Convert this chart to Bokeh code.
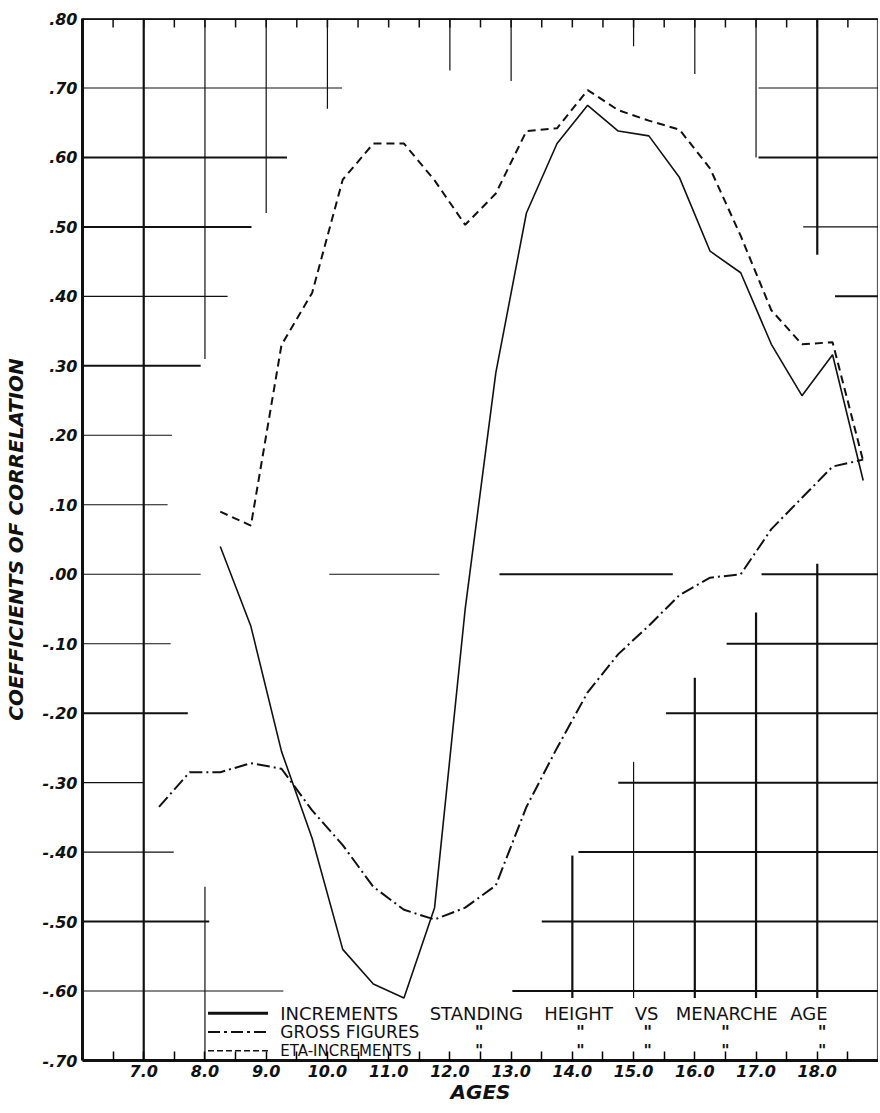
from bokeh.plotting import figure
from bokeh.models import LinearAxis, FixedTicker, Range1d, Span
from bokeh.embed import file_html
from bokeh.resources import INLINE
from bokeh.core.properties import value

# ---------------- data ----------------
ages = [8.25, 8.75, 9.25, 9.75, 10.25, 10.75, 11.25, 11.75, 12.25, 12.75, 13.25,
        13.75, 14.25, 14.75, 15.25, 15.75, 16.25, 16.75, 17.25, 17.75, 18.25, 18.75]
increments = [0.04, -0.075, -0.255, -0.38, -0.54, -0.59, -0.61, -0.48, -0.05, 0.29, 0.52,
              0.62, 0.675, 0.638, 0.631, 0.571, 0.465, 0.434, 0.331, 0.257, 0.316, 0.135]
eta_increments = [0.09, 0.07, 0.33, 0.405, 0.568, 0.62, 0.62, 0.567, 0.503, 0.548, 0.638,
                  0.642, 0.697, 0.668, 0.653, 0.64, 0.584, 0.487, 0.38, 0.331, 0.334, 0.163]
gross_ages = [7.25, 7.75, 8.25, 8.75, 9.25, 9.75, 10.25, 10.75, 11.25, 11.75, 12.25, 12.75,
              13.25, 13.75, 14.25, 14.75, 15.25, 15.75, 16.25, 16.75, 17.25, 17.75, 18.25, 18.75]
gross_figures = [-0.335, -0.285, -0.285, -0.272, -0.28, -0.34, -0.39, -0.45, -0.483, -0.497, -0.48, -0.448,
                 -0.335, -0.25, -0.17, -0.115, -0.074, -0.03, -0.005, 0.0, 0.065, 0.11, 0.155, 0.165]

x_ticks = [7.0, 8.0, 9.0, 10.0, 11.0, 12.0, 13.0, 14.0, 15.0, 16.0, 17.0, 18.0]
x_tick_labels = ["7.0", "8.0", "9.0", "10.0", "11.0", "12.0", "13.0", "14.0", "15.0", "16.0", "17.0", "18.0"]
x_minor = [6.5, 7.5, 8.5, 9.5, 10.5, 11.5, 12.5, 13.5, 14.5, 15.5, 16.5, 17.5, 18.5]
y_ticks = [0.8, 0.7, 0.6, 0.5, 0.4, 0.3, 0.2, 0.1, 0.0, -0.1, -0.2, -0.3, -0.4, -0.5, -0.6, -0.7]
y_tick_labels = [".80", ".70", ".60", ".50", ".40", ".30", ".20", ".10", ".00",
                 "-.10", "-.20", "-.30", "-.40", "-.50", "-.60", "-.70"]

legend_labels = ["INCREMENTS STANDING HEIGHT VS MENARCHE AGE", "GROSS FIGURES", "ETA-INCREMENTS"]

# partial ruling of the original graph paper: (value, from, to)
grid_h_thick = [(0.6, 6.0, 9.34), (0.5, 6.0, 8.76), (0.3, 6.0, 7.93), (-0.2, 6.0, 7.72), (-0.5, 6.0, 8.07),
                (0.6, 17.04, 19.0), (0.4, 18.29, 19.0), (-0.1, 16.52, 19.0), (-0.2, 15.53, 19.0),
                (-0.3, 14.75, 19.0), (-0.4, 14.1, 19.0), (-0.5, 13.5, 19.0), (-0.6, 13.02, 19.0),
                (0.0, 12.81, 15.64), (0.0, 17.09, 19.0)]
grid_h_thin = [(0.7, 6.0, 10.24), (0.4, 6.0, 8.37), (0.2, 6.0, 7.46), (0.1, 6.0, 7.39), (0.0, 6.0, 7.93),
               (-0.1, 6.0, 7.44), (-0.3, 6.0, 7.0), (-0.4, 6.0, 7.49), (-0.6, 6.0, 9.28),
               (0.7, 17.04, 19.0), (0.5, 17.77, 19.0), (0.0, 10.03, 11.83)]
grid_v_thick = [(7.0, -0.7, 0.8), (18.0, 0.46, 0.8), (14.0, -0.61, -0.405), (16.0, -0.61, -0.149),
                (17.0, -0.61, -0.055), (18.0, -0.61, 0.015)]
grid_v_thin = [(8.0, 0.31, 0.8), (8.0, -0.7, -0.45), (9.0, 0.52, 0.8), (10.0, 0.67, 0.8),
               (12.0, 0.725, 0.8), (13.0, 0.71, 0.8), (15.0, 0.76, 0.8), (16.0, 0.72, 0.8),
               (17.0, 0.6, 0.8), (15.0, -0.61, -0.27)]

# ---------------- figure ----------------
INK = "#111111"
FONT = "DejaVu Sans"
Y_TOP = 0.8
TOP_TICK = 0.013

p = figure(width=878, height=1108, output_backend="svg", toolbar_location=None,
           x_range=Range1d(6.0, 19.0), y_range=Range1d(-0.70, Y_TOP),
           x_axis_location=None, y_axis_location=None,
           min_border_left=81, min_border_right=0, min_border_top=18, min_border_bottom=48,
           background_fill_color="white", border_fill_color="white")
p.grid.visible = False
p.outline_line_color = "#555555"
p.outline_line_width = 1.2

# grid pieces
for segs, w in ((grid_h_thick, 2.0), (grid_h_thin, 1.1)):
    p.segment(x0=[s[1] for s in segs], y0=[s[0] for s in segs],
              x1=[s[2] for s in segs], y1=[s[0] for s in segs],
              line_color=INK, line_width=w)
for segs, w in ((grid_v_thick, 2.2), (grid_v_thin, 1.2)):
    p.segment(x0=[s[0] for s in segs], y0=[s[1] for s in segs],
              x1=[s[0] for s in segs], y1=[s[2] for s in segs],
              line_color=INK, line_width=w)

# heavy top rule with short hanging ticks
top_ticks = x_ticks + x_minor
p.segment(x0=top_ticks, y0=[Y_TOP] * len(top_ticks), x1=top_ticks,
          y1=[Y_TOP - TOP_TICK] * len(top_ticks), line_color=INK, line_width=1.5)
p.add_layout(Span(location=Y_TOP, dimension="width", line_color=INK, line_width=3))

# data lines
solid_style = dict(line_color=INK, line_width=1.6)
dashdot_style = dict(line_color=INK, line_width=2.0, line_dash="13 4 2 4")
dash_style = dict(line_color=INK, line_width=2.0, line_dash="8 5")

p.line(gross_ages, gross_figures, **dashdot_style)
p.line(ages, eta_increments, **dash_style)
p.line(ages, increments, **solid_style)

# axes
xb = LinearAxis(ticker=FixedTicker(ticks=x_ticks, minor_ticks=x_minor), axis_label="AGES")
xb.major_label_overrides = dict(zip(x_ticks, x_tick_labels))
xb.axis_line_width = 3
xb.axis_line_color = INK
xb.major_tick_in = 9
xb.major_tick_out = 0
xb.minor_tick_in = 9
xb.minor_tick_out = 0
xb.major_tick_line_width = 1.5
xb.minor_tick_line_width = 1.5
xb.major_label_standoff = 4
xb.major_label_text_font = FONT
xb.major_label_text_font_style = "bold italic"
xb.major_label_text_font_size = "16px"
xb.major_label_text_color = INK
xb.axis_label_standoff = 0
xb.axis_label_text_font = FONT
xb.axis_label_text_font_style = "bold italic"
xb.axis_label_text_font_size = "20px"
xb.axis_label_text_color = INK
p.add_layout(xb, "below")

yl = LinearAxis(ticker=FixedTicker(ticks=y_ticks), axis_label="COEFFICIENTS OF CORRELATION")
yl.major_label_overrides = dict(zip(y_ticks, y_tick_labels))
yl.axis_line_width = 3
yl.axis_line_color = INK
yl.major_tick_in = 0
yl.major_tick_out = 0
yl.minor_tick_in = 0
yl.minor_tick_out = 0
yl.major_label_standoff = 5
yl.major_label_text_font = FONT
yl.major_label_text_font_style = "bold italic"
yl.major_label_text_font_size = "16px"
yl.major_label_text_color = INK
yl.axis_label_standoff = 12
yl.axis_label_text_font = FONT
yl.axis_label_text_font_style = "bold italic"
yl.axis_label_text_font_size = "20px"
yl.axis_label_text_color = INK
p.add_layout(yl, "left")

# ---------------- hand-lettered key ----------------
row_y = [-0.632, -0.659, -0.686]
sample_x = [8.05, 9.03]
text_x = 9.23
p.line(sample_x, [row_y[0]] * 2, line_color=INK, line_width=3)
p.line(sample_x, [row_y[1]] * 2, line_color=INK, line_width=2.2, line_dash="12 4 3 4")
p.line(sample_x, [row_y[2]] * 2, line_color=INK, line_width=1.6, line_dash="6 3")

words_row1 = legend_labels[0].split(" ")
words_x = [9.23, 11.67, 13.54, 15.02, 15.69, 17.56]
p.text(x=words_x, y=[row_y[0]] * len(words_row1), text=words_row1,
       text_font=value(FONT), text_font_size="18px", text_color=INK,
       text_baseline="middle", text_align="left")
p.text(x=[text_x], y=[row_y[1]], text=[legend_labels[1]],
       text_font=value(FONT), text_font_size="17px", text_color=INK,
       text_baseline="middle", text_align="left")
p.text(x=[text_x], y=[row_y[2]], text=[legend_labels[2]],
       text_font=value(FONT), text_font_size="15px", text_color=INK,
       text_baseline="middle", text_align="left")
ditto_x = [12.48, 14.13, 15.23, 16.50, 18.08]
for ry, fs in ((row_y[1], "17px"), (row_y[2], "16px")):
    p.text(x=ditto_x, y=[ry] * len(ditto_x), text=['"'] * len(ditto_x),
           text_font=value(FONT), text_font_size=fs, text_font_style="bold", text_color=INK,
           text_baseline="middle", text_align="center")

open("out.html", "w").write(file_html(p, INLINE))
